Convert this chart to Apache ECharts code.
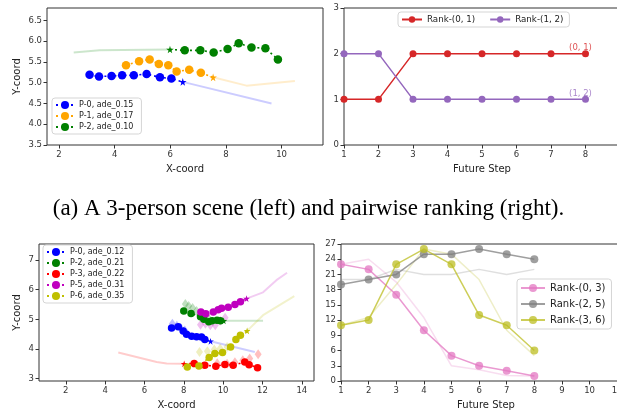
<!DOCTYPE html>
<html>
<head>
<meta charset="utf-8">
<script src="https://cdn.jsdelivr.net/npm/echarts@6/dist/echarts.min.js"></script>
<style>
html,body{margin:0;padding:0;background:#fff;}
#main{width:617px;height:412px;}
</style>
</head>
<body>
<div id="main"></div>
<script>
// ---- data: scene (a), 3 persons ----
var a0Obs = [[3.10,5.19],[3.44,5.15],[3.89,5.16],[4.27,5.18],[4.69,5.18],[5.15,5.21],[5.63,5.13],[6.04,5.10]];
var a0Star = [6.45,5.02];
var a0Fut = [[6.45,5.02],[9.64,4.50]];
var a1Obs = [[4.41,5.42],[4.88,5.52],[5.26,5.56],[5.59,5.45],[5.93,5.42],[6.23,5.27],[6.68,5.31],[7.10,5.24]];
var a1Star = [7.54,5.13];
var a1Fut = [[7.54,5.13],[8.74,4.93],[10.48,5.04]];
var a2Star = [5.99,5.80];
var a2Obs = [[6.52,5.78],[7.08,5.78],[7.56,5.73],[8.06,5.81],[8.46,5.95],[8.92,5.85],[9.42,5.83],[9.87,5.56]];
var a2Past = [[2.53,5.73],[3.46,5.78],[5.99,5.80]];

// pairwise ranking (a)
var stepsA = [1,2,3,4,5,6,7,8];
var rank01 = [1,1,2,2,2,2,2,2];
var rank12 = [2,2,1,1,1,1,1,1];

// ---- data: scene (b) ----
var b0Obs = [[7.38,4.71],[7.72,4.75],[7.97,4.61],[8.14,4.50],[8.40,4.43],[8.65,4.41],[8.90,4.40],[9.07,4.32]];
var b0Star = [9.36,4.26];
var b0Fut = [[9.36,4.26],[11.61,3.90]];
var b0Dia = [[7.42,4.85],[7.65,4.78],[7.85,4.70],[8.05,4.62]];
var b2Obs = [[8.00,5.28],[8.37,5.20],[8.85,5.09],[9.02,5.00],[9.27,4.92],[9.44,4.95],[9.69,4.97],[9.86,4.95]];
var b2Star = [10.03,4.95];
var b2Fut = [[10.03,4.95],[12.03,4.95]];
var b2Dia = [[8.08,5.52],[8.25,5.45],[8.45,5.38],[8.65,5.28],[8.85,5.15],[9.05,5.05],[9.30,5.00]];
var b3Star = [8.02,3.50];
var b3Obs = [[8.53,3.51],[9.07,3.45],[9.63,3.42],[10.09,3.48],[10.51,3.45],[11.10,3.56],[11.32,3.47],[11.75,3.37]];
var b3Past = [[4.67,3.88],[6.62,3.56],[7.13,3.51],[8.02,3.50]];
var b3Dia = [[9.70,3.52],[10.20,3.50],[10.60,3.55],[11.00,3.62],[11.35,3.68],[11.78,3.82]];
var b5Obs = [[8.87,5.25],[9.12,5.19],[9.50,5.25],[9.75,5.32],[9.92,5.37],[10.26,5.41],[10.60,5.50],[10.88,5.59]];
var b5Star = [11.19,5.70];
var b5Fut = [[11.19,5.70],[12.03,5.91],[12.71,6.32],[13.25,6.57]];
var b5Dia = [[8.85,4.82],[9.10,4.85],[9.35,4.80],[9.60,4.80],[9.85,4.95],[10.10,5.05]];
var b6Obs = [[8.18,3.39],[8.77,3.43],[9.29,3.71],[9.58,3.85],[9.97,3.88],[10.38,4.07],[10.65,4.32],[10.88,4.46]];
var b6Star = [11.22,4.61];
var b6Fut = [[11.22,4.61],[12.03,5.14],[13.62,5.78]];
var b6Dia = [[8.80,3.90],[9.20,3.92],[9.55,3.98],[9.85,4.02],[10.20,4.07]];

// pairwise ranking (b)
var stepsB = [1,2,3,4,5,6,7,8];
var rank03 = [23,22,17,10,5,3,2,1];
var rank25 = [19,20,21,25,25,26,25,24];
var rank36 = [11,12,23,26,23,13,11,6];
var gt03 = [23,24,19.5,12.5,3,2.2,1.1,1];
var gt25 = [20,20,22,21,21,22,21,22];
var gt36 = [11,12.5,19,26,25,20,10,5];

// tick labels
var tlX = [2,4,6,8,10];
var tlY = [3.5,4,4.5,5,5.5,6,6.5];
var trX = [1,2,3,4,5,6,7,8];
var trY = [0,1,2,3];
var blX = [2,4,6,8,10,12,14];
var blY = [3,4,5,6,7];
var brX = [1,2,3,4,5,6,7,8,9,10,11];
var brY = [0,3,6,9,12,15,18,21,24,27];

var FONT = 'DejaVu Sans';
var STAR = 'path://M50,0 L61,35 L98,35 L68,57 L79,91 L50,70 L21,91 L32,57 L2,35 L39,35 Z';

var myChart = echarts.init(document.getElementById('main'));

function axis(idx, min, max, ticks, fmt, name, gap, isY) {
    var ax = {
        type: 'value', gridIndex: idx, min: min, max: max,
        axisLine: {show: false},
        splitLine: {show: false},
        axisTick: {show: true, length: 3.5, lineStyle: {color: '#333'}, customValues: ticks},
        axisLabel: {fontFamily: FONT, fontSize: 8.5, color: '#333', margin: 5, customValues: ticks, formatter: fmt}
    };
    if (name) {
        ax.name = name;
        ax.nameLocation = 'middle';
        ax.nameGap = gap;
        ax.nameTextStyle = {fontFamily: FONT, fontSize: 10, color: '#222'};
        if (isY) ax.nameRotate = 90;
    }
    return ax;
}
function intFmt(v) { return String(Math.round(v)); }
function oneFmt(v) { return v.toFixed(1); }

function traj(name, pts, star, starFirst, color, idx, size) {
    var s = {value: star, symbol: STAR, symbolSize: size * 0.9};
    var data = starFirst ? [s].concat(pts) : pts.concat([s]);
    return {
        name: name, type: 'line', xAxisIndex: idx, yAxisIndex: idx, data: data,
        symbol: 'circle', symbolSize: size, z: 5,
        lineStyle: {type: [2, 3], width: 1.6, color: color},
        itemStyle: {color: color}
    };
}
function fade(name, pts, color, idx) {
    return {
        name: name, type: 'line', xAxisIndex: idx, yAxisIndex: idx, data: pts,
        symbol: 'none', z: 2, silent: true,
        lineStyle: {width: 2, color: color, opacity: 0.2}
    };
}
function dia(name, pts, color, idx) {
    return {
        name: name, type: 'scatter', xAxisIndex: idx, yAxisIndex: idx, data: pts,
        symbol: 'diamond', symbolSize: [7, 10], z: 3, silent: true,
        itemStyle: {color: color, opacity: 0.25}
    };
}
function rankLine(name, steps, vals, color, idx, size, op, tag) {
    var data = steps.map(function (s, i) { return [s, vals[i]]; });
    if (tag) {
        data[data.length - 1] = {
            value: data[data.length - 1],
            label: {show: true, position: 'top', distance: 1, offset: [-5, 3], formatter: tag,
                    fontFamily: FONT, fontSize: 8.5, color: color, opacity: 0.8}
        };
    }
    return {
        name: name, type: 'line', xAxisIndex: idx, yAxisIndex: idx, data: data,
        symbol: 'circle', symbolSize: size, z: 5,
        lineStyle: {width: 1.5, color: color, opacity: op},
        itemStyle: {color: color, opacity: op}
    };
}
function gtLine(name, steps, vals, color, idx) {
    return {
        name: name, type: 'line', xAxisIndex: idx, yAxisIndex: idx,
        data: steps.map(function (s, i) { return [s, vals[i]]; }),
        symbol: 'none', z: 2, silent: true,
        lineStyle: {width: 1.5, color: color, opacity: 0.25}
    };
}
function legendBox(o) {
    var base = {
        orient: 'vertical', itemWidth: 18, itemHeight: 10, itemGap: 3,
        textStyle: {fontFamily: FONT, fontSize: 8, color: '#222'},
        backgroundColor: 'rgba(255,255,255,0.85)', borderColor: '#d5d5d5', borderWidth: 1,
        borderRadius: 3, padding: [3, 8, 3, 3], selectedMode: false
    };
    for (var k in o) base[k] = o[k];
    return base;
}
function grid(left, top, width) {
    return {left: left, top: top, width: width, height: 137, show: true,
            borderColor: '#333', borderWidth: 1, outerBoundsMode: 'none'};
}

var option = {
    animation: false,
    title: {
        text: '(a) A 3-person scene (left) and pairwise ranking (right).',
        left: 'center', top: 197, padding: 0,
        textStyle: {fontFamily: 'Liberation Serif', fontSize: 23, fontWeight: 'normal', color: '#000'}
    },
    grid: [
        grid(47, 8, 276),
        grid(344, 8, 276),
        grid(39, 244, 275),
        grid(341, 244, 290)
    ],
    xAxis: [
        axis(0, 1.57, 11.49, tlX, intFmt, 'X-coord', 19),
        axis(1, 1, 9, trX, intFmt, 'Future Step', 19),
        axis(2, 0.64, 14.62, blX, intFmt, 'X-coord', 19),
        axis(3, 1, 11.5, brX, intFmt, 'Future Step', 19)
    ],
    yAxis: [
        axis(0, 3.5, 6.8, tlY, oneFmt, 'Y-coord', 25, true),
        axis(1, 0, 3, trY, intFmt),
        axis(2, 2.92, 7.54, blY, intFmt, 'Y-coord', 17, true),
        axis(3, 0, 27, brY, intFmt)
    ],
    legend: [
        legendBox({left: 52, top: 98, data: ['P-0, ade_0.15', 'P-1, ade_0.17', 'P-2, ade_0.10']}),
        legendBox({orient: 'horizontal', left: 398, top: 12, itemWidth: 20, itemHeight: 8, itemGap: 14,
                   textStyle: {fontFamily: FONT, fontSize: 8.7, color: '#222'}, padding: [3, 6, 3, 3],
                   data: ['Rank-(0, 1)', 'Rank-(1, 2)']}),
        legendBox({left: 43, top: 245, data: ['P-0, ade_0.12', 'P-2, ade_0.21', 'P-3, ade_0.22', 'P-5, ade_0.31', 'P-6, ade_0.35']}),
        legendBox({left: 517, top: 279, itemWidth: 24, itemHeight: 10, itemGap: 6,
                   textStyle: {fontFamily: FONT, fontSize: 10, color: '#222'}, padding: [4, 6, 4, 3],
                   data: ['Rank-(0, 3)', 'Rank-(2, 5)', 'Rank-(3, 6)']})
    ],
    series: [
        // scene (a)
        fade('a0-fut', a0Fut, '#0000ff', 0),
        fade('a1-fut', a1Fut, '#ffa500', 0),
        fade('a2-past', a2Past, '#008000', 0),
        traj('P-0, ade_0.15', a0Obs, a0Star, false, '#0000ff', 0, 8.5),
        traj('P-1, ade_0.17', a1Obs, a1Star, false, '#ffa500', 0, 8.5),
        traj('P-2, ade_0.10', a2Obs, a2Star, true, '#008000', 0, 8.5),
        // ranking (a)
        rankLine('Rank-(0, 1)', stepsA, rank01, '#d62728', 1, 7, 1, '(0, 1)'),
        rankLine('Rank-(1, 2)', stepsA, rank12, '#9467bd', 1, 7, 1, '(1, 2)'),
        // scene (b)
        fade('b0-fut', b0Fut, '#0000ff', 2),
        fade('b2-fut', b2Fut, '#008000', 2),
        fade('b3-past', b3Past, '#ff0000', 2),
        fade('b5-fut', b5Fut, '#bf00bf', 2),
        fade('b6-fut', b6Fut, '#bfbf00', 2),
        dia('b0-dia', b0Dia, '#0000ff', 2),
        dia('b2-dia', b2Dia, '#008000', 2),
        dia('b3-dia', b3Dia, '#ff0000', 2),
        dia('b5-dia', b5Dia, '#bf00bf', 2),
        dia('b6-dia', b6Dia, '#bfbf00', 2),
        traj('P-0, ade_0.12', b0Obs, b0Star, false, '#0000ff', 2, 7.5),
        traj('P-2, ade_0.21', b2Obs, b2Star, false, '#008000', 2, 7.5),
        traj('P-3, ade_0.22', b3Obs, b3Star, true, '#ff0000', 2, 7.5),
        traj('P-5, ade_0.31', b5Obs, b5Star, false, '#bf00bf', 2, 7.5),
        traj('P-6, ade_0.35', b6Obs, b6Star, false, '#bfbf00', 2, 7.5),
        // ranking (b)
        gtLine('gt-(0, 3)', stepsB, gt03, '#e377c2', 3),
        gtLine('gt-(2, 5)', stepsB, gt25, '#7f7f7f', 3),
        gtLine('gt-(3, 6)', stepsB, gt36, '#bcbd22', 3),
        rankLine('Rank-(0, 3)', stepsB, rank03, '#e377c2', 3, 8, 0.75),
        rankLine('Rank-(2, 5)', stepsB, rank25, '#7f7f7f', 3, 8, 0.75),
        rankLine('Rank-(3, 6)', stepsB, rank36, '#bcbd22', 3, 8, 0.75)
    ]
};
myChart.setOption(option);
</script>
</body>
</html>
